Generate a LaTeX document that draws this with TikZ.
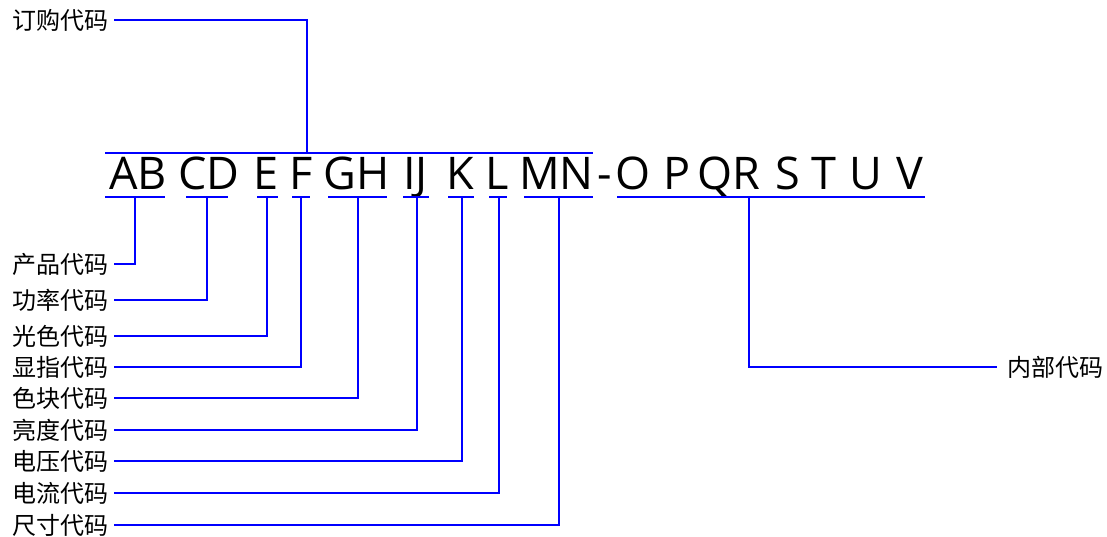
\documentclass[tikz,border=0pt]{standalone}
\usepackage{fontspec}
\setmainfont{Open Sans}
\newfontfamily\cjk{Noto Sans CJK SC}
\tikzset{
  code/.style={inner sep=0pt,anchor=base,font=\fontsize{45}{50}\selectfont},
  lbl/.style={inner xsep=5pt,inner ysep=0pt,font=\cjk\fontsize{24}{28}\selectfont},
  wire/.style={blue,line width=1.4pt}
}
\begin{document}
\begin{tikzpicture}[x=1pt,y=-1pt]
  \useasboundingbox (0,0) rectangle (1107,537);
  % code letters
  \node[code] (ab) at (138,190) {AB};
  \node[code] (cd) at (209,190) {CD};
  \node[code] (e) at (266,190) {E};
  \node[code] (f) at (301,190) {F};
  \node[code] (gh) at (356.5,190) {GH};
  \node[code] (ij) at (415.5,190) {IJ};
  \node[code] (k) at (460.5,190) {K};
  \node[code] (l) at (497,190) {L};
  \node[code] (mn) at (556.5,190) {MN};
  \node[code] (dash) at (605,190) {-};
  \node[code] (o) at (633.5,190) {O};
  \node[code] (p) at (677.5,190) {P};
  \node[code] (qr) at (729,190) {QR};
  \node[code] (s) at (788,190) {S};
  \node[code] (t) at (824,190) {T};
  \node[code] (u) at (865.5,190) {U};
  \node[code] (v) at (910,190) {V};
  % over and under lines
  \draw[wire] (105,153) -- (593,153);
  \draw[wire] (105,197) -- (165,197);
  \draw[wire] (186,197) -- (228,197);
  \draw[wire] (257,197) -- (278,197);
  \draw[wire] (292,197) -- (310,197);
  \draw[wire] (328,197) -- (387,197);
  \draw[wire] (403,197) -- (429,197);
  \draw[wire] (448,197) -- (474,197);
  \draw[wire] (489,197) -- (507,197);
  \draw[wire] (524,197) -- (593,197);
  \draw[wire] (617,197) -- (925,197);
  % tick points
  \coordinate (dgt) at (307,153);
  \coordinate (abt) at (135,197);
  \coordinate (cdt) at (207,197);
  \coordinate (et) at (267,197);
  \coordinate (ft) at (301,197);
  \coordinate (ght) at (358,197);
  \coordinate (ijt) at (417,197);
  \coordinate (kt) at (462,197);
  \coordinate (lt) at (499,197);
  \coordinate (mnt) at (559,197);
  \coordinate (qrt) at (749,197);
  % labels
  \node[lbl,anchor=east] (dg) at (114,20) {订购代码};
  \node[lbl,anchor=east] (cp) at (114,264) {产品代码};
  \node[lbl,anchor=east] (gl) at (114,300) {功率代码};
  \node[lbl,anchor=east] (gs) at (114,336) {光色代码};
  \node[lbl,anchor=east] (xz) at (114,367) {显指代码};
  \node[lbl,anchor=east] (sk) at (114,398) {色块代码};
  \node[lbl,anchor=east] (ld) at (114,430) {亮度代码};
  \node[lbl,anchor=east] (dy) at (114,461) {电压代码};
  \node[lbl,anchor=east] (dl) at (114,493) {电流代码};
  \node[lbl,anchor=east] (cc) at (114,525) {尺寸代码};
  \node[lbl,anchor=west,inner xsep=10pt] (nb) at (997,367) {内部代码};
  % connectors
  \draw[wire] (dg.east) -| (dgt);
  \draw[wire] (abt) |- (cp.east);
  \draw[wire] (cdt) |- (gl.east);
  \draw[wire] (et) |- (gs.east);
  \draw[wire] (ft) |- (xz.east);
  \draw[wire] (ght) |- (sk.east);
  \draw[wire] (ijt) |- (ld.east);
  \draw[wire] (kt) |- (dy.east);
  \draw[wire] (lt) |- (dl.east);
  \draw[wire] (mnt) |- (cc.east);
  \draw[wire] (qrt) |- (nb.west);
\end{tikzpicture}
\end{document}
